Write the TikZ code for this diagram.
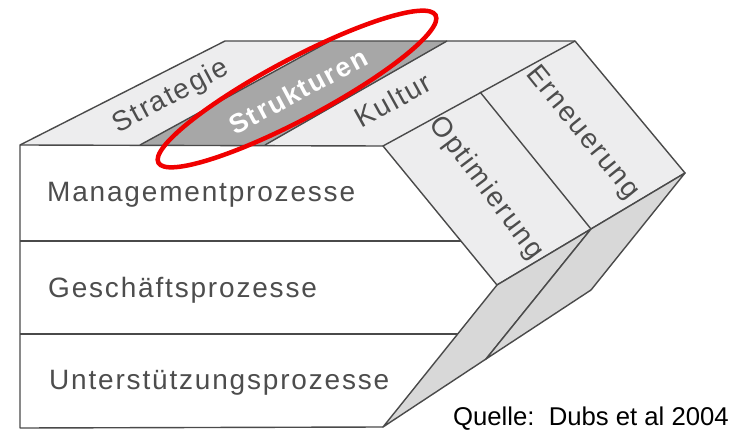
\documentclass[tikz,border=0pt]{standalone}
\usepackage{fontspec}
\setmainfont{Liberation Sans}
\newfontfamily\spacedfont[LetterSpace=6.5]{Liberation Sans}
\definecolor{edge}{HTML}{4A4A4A}
\definecolor{facefill}{HTML}{EDEDEE}
\definecolor{darkstrip}{HTML}{A7A7A7}
\definecolor{sliverfill}{HTML}{D8D8D8}
\definecolor{labelgray}{HTML}{4D4D4D}
\definecolor{ringred}{HTML}{F00000}
\begin{document}
\begin{tikzpicture}[x=1pt,y=-1pt,
  edgeline/.style={draw=edge,line width=1.4pt,line join=round},
  facelabel/.style={font=\spacedfont\fontsize{28}{32}\selectfont, text=labelgray, inner sep=0pt},
  rowlabel/.style={facelabel, anchor=base west},
  quelle/.style={font=\fontsize{25.7}{30}\selectfont, text=black, inner sep=0pt, anchor=base east}]
\useasboundingbox (0,0) rectangle (733,430);
% corner coordinates
\coordinate (F1) at (20,145);
\coordinate (B1) at (225,41);
\coordinate (B2) at (575,41);
\coordinate (F2) at (383,146);
\coordinate (D1a) at (140,145);
\coordinate (D1b) at (330,41);
\coordinate (D2a) at (265,145);
\coordinate (D2b) at (447,41);
\coordinate (P2) at (480,92);
\coordinate (P4) at (685,173);
\coordinate (P5) at (591,229);
\coordinate (P6) at (497,285);
\coordinate (S1) at (486,359);
\coordinate (S2) at (591,290);
\coordinate (T) at (383,427);
\coordinate (BL) at (20,428);
\coordinate (H1a) at (20,241);
\coordinate (H1b) at (461,241);
\coordinate (H2a) at (20,334);
\coordinate (H2b) at (458,334);
% top face
\path[fill=facefill] (F1) -- (B1) -- (B2) -- (F2) -- cycle;
\path[fill=darkstrip] (D1a) -- (D1b) -- (D2b) -- (D2a) -- cycle;
\draw[edgeline] (F1) -- (B1) -- (B2);
\draw[edgeline] (D1a) -- (D1b);
\draw[edgeline] (D2a) -- (D2b);
% side panels
\draw[edgeline, fill=facefill] (F2) -- (B2) -- (P4) -- (P5) -- (P6) -- cycle;
\draw[edgeline] (P2) -- (P5);
% folding slivers
\draw[edgeline, fill=sliverfill] (P6) -- (P5) -- (S1) -- (T) -- cycle;
\draw[edgeline, fill=sliverfill] (P5) -- (P4) -- (S2) -- (S1) -- cycle;
% front box
\draw[edgeline] (F2) -- (F1) -- (BL) -- (T);
\draw[edgeline] (H1a) -- (H1b);
\draw[edgeline] (H2a) -- (H2b);
% labels
\node[facelabel, rotate=28] (strategie) at (171,97) {Strategie};
\node[facelabel, rotate=28, text=white, font=\spacedfont\bfseries\fontsize{27}{32}\selectfont] (strukturen) at (298,91) {Strukturen};
\node[facelabel, rotate=29] (kultur) at (393,100) {Kultur};
\node[facelabel, rotate=-53] (optimierung) at (486,188) {Optimierung};
\node[facelabel, rotate=-51] (erneuerung) at (582,133) {Erneuerung};
\node[rowlabel] (mgmt) at (47,202) {Managementprozesse};
\node[rowlabel] (gesch) at (48,297) {Geschäftsprozesse};
\node[rowlabel] (unter) at (49,389) {Unterstützungsprozesse};
\node[quelle] (src) at (729,425) {Quelle:\ \ Dubs et al 2004};
% red highlight ellipse
\draw[ringred, line width=4.5pt, rotate around={28:(297,89)}] (297,89) ellipse [x radius=157, y radius=30];
\end{tikzpicture}
\end{document}
